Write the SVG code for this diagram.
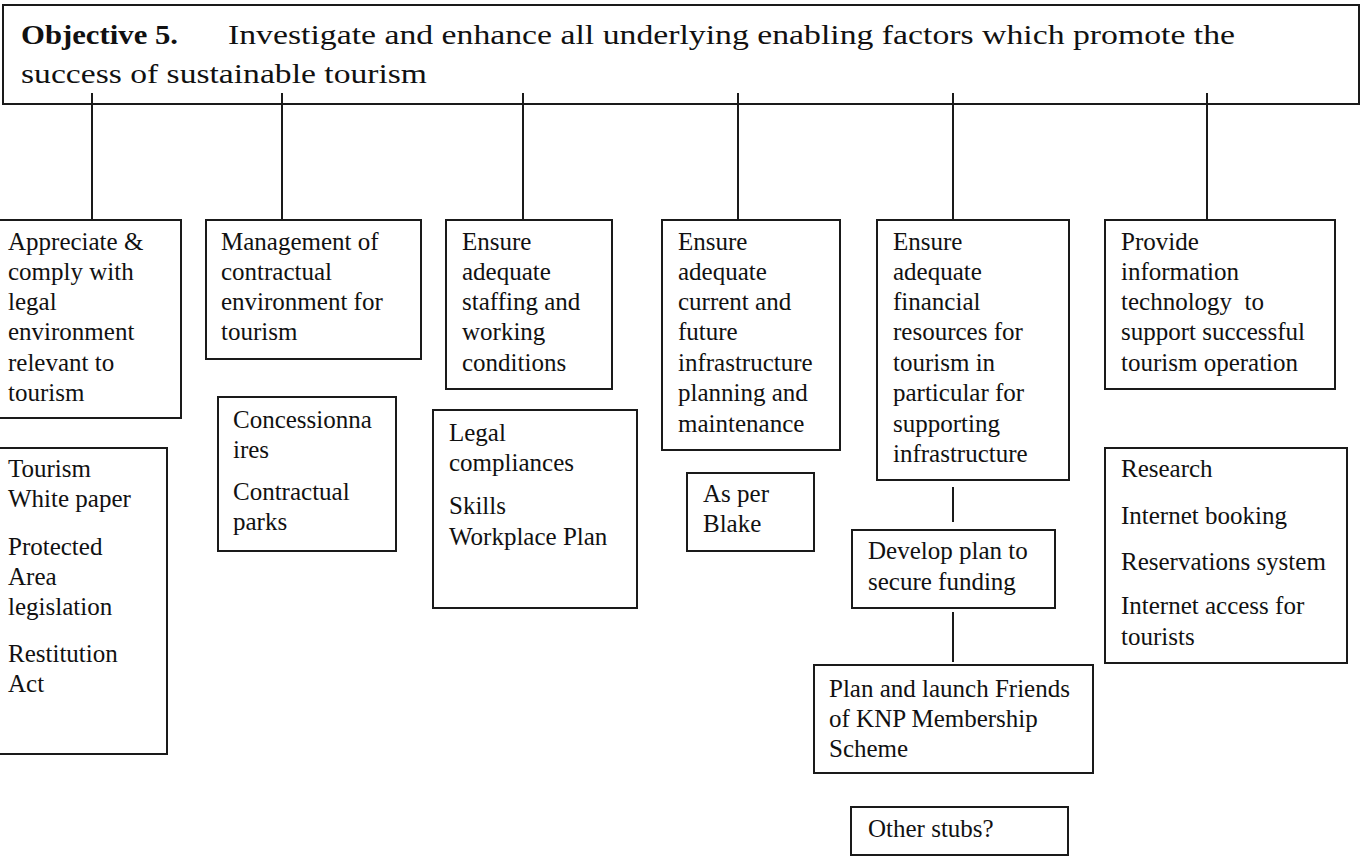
<svg xmlns="http://www.w3.org/2000/svg" width="1363" height="858" viewBox="0 0 1363 858">
  <style>
    .box { fill: #ffffff; stroke: #1a1a1a; stroke-width: 2; }
    .wire { stroke: #1a1a1a; stroke-width: 2; fill: none; }
    text { font-family: "Liberation Serif", "Times New Roman", serif; font-size: 25px; fill: #111111; }
    .title { font-size: 27px; }
    .bold { font-weight: bold; }
  </style>
  <rect width="1363" height="858" fill="#ffffff"/>

  <!-- objective header -->
  <g id="objective">
    <rect class="box" x="3" y="5" width="1356" height="99"/>
    <text class="title bold" x="21" y="44" textLength="157" lengthAdjust="spacingAndGlyphs">Objective 5.</text>
    <text class="title" x="228" y="44" textLength="1007" lengthAdjust="spacingAndGlyphs">Investigate and enhance all underlying enabling factors which promote the</text>
    <text class="title" x="21" y="83" textLength="406" lengthAdjust="spacingAndGlyphs">success of sustainable tourism</text>
  </g>

  <!-- connectors: drop lines start inside the header box -->
  <g id="connectors">
    <line class="wire" x1="92" y1="93" x2="92" y2="220"/>
    <line class="wire" x1="282" y1="93" x2="282" y2="220"/>
    <line class="wire" x1="523" y1="93" x2="523" y2="220"/>
    <line class="wire" x1="738" y1="93" x2="738" y2="220"/>
    <line class="wire" x1="953" y1="93" x2="953" y2="220"/>
    <line class="wire" x1="1207" y1="93" x2="1207" y2="220"/>
    <line class="wire" x1="953" y1="487" x2="953" y2="522"/>
    <line class="wire" x1="953" y1="612" x2="953" y2="662"/>
  </g>

  <g id="legal">
    <rect class="box" x="-2" y="220" width="183" height="198"/>
    <text x="8" y="250">Appreciate &amp;</text>
    <text x="8" y="280">comply with</text>
    <text x="8" y="310">legal</text>
    <text x="8" y="340">environment</text>
    <text x="8" y="371">relevant to</text>
    <text x="8" y="401">tourism</text>
  </g>

  <g id="contractual">
    <rect class="box" x="206" y="220" width="215" height="139"/>
    <text x="221" y="250">Management of</text>
    <text x="221" y="280">contractual</text>
    <text x="221" y="310">environment for</text>
    <text x="221" y="340">tourism</text>
  </g>

  <g id="staffing">
    <rect class="box" x="446" y="220" width="166" height="169"/>
    <text x="462" y="250">Ensure</text>
    <text x="462" y="280">adequate</text>
    <text x="462" y="310">staffing and</text>
    <text x="462" y="340">working</text>
    <text x="462" y="371">conditions</text>
  </g>

  <g id="infrastructure">
    <rect class="box" x="662" y="220" width="178" height="230"/>
    <text x="678" y="250">Ensure</text>
    <text x="678" y="280">adequate</text>
    <text x="678" y="310">current and</text>
    <text x="678" y="340">future</text>
    <text x="678" y="371">infrastructure</text>
    <text x="678" y="401">planning and</text>
    <text x="678" y="432">maintenance</text>
  </g>

  <g id="financial">
    <rect class="box" x="877" y="220" width="192" height="260"/>
    <text x="893" y="250">Ensure</text>
    <text x="893" y="280">adequate</text>
    <text x="893" y="310">financial</text>
    <text x="893" y="340">resources for</text>
    <text x="893" y="371">tourism in</text>
    <text x="893" y="401">particular for</text>
    <text x="893" y="432">supporting</text>
    <text x="893" y="462">infrastructure</text>
  </g>

  <g id="it">
    <rect class="box" x="1105" y="220" width="230" height="169"/>
    <text x="1121" y="250">Provide</text>
    <text x="1121" y="280">information</text>
    <text x="1121" y="310" xml:space="preserve">technology  to</text>
    <text x="1121" y="340">support successful</text>
    <text x="1121" y="371">tourism operation</text>
  </g>

  <g id="legislation">
    <rect class="box" x="-2" y="448" width="169" height="306"/>
    <text x="8" y="477">Tourism</text>
    <text x="8" y="507">White paper</text>
    <text x="8" y="555">Protected</text>
    <text x="8" y="585">Area</text>
    <text x="8" y="615">legislation</text>
    <text x="8" y="662">Restitution</text>
    <text x="8" y="692">Act</text>
  </g>

  <g id="concessions">
    <rect class="box" x="218" y="397" width="178" height="154"/>
    <text x="233" y="428">Concessionna</text>
    <text x="233" y="458">ires</text>
    <text x="233" y="500">Contractual</text>
    <text x="233" y="530">parks</text>
  </g>

  <g id="compliance">
    <rect class="box" x="433" y="410" width="204" height="198"/>
    <text x="449" y="441">Legal</text>
    <text x="449" y="471">compliances</text>
    <text x="449" y="514">Skills</text>
    <text x="449" y="545">Workplace Plan</text>
  </g>

  <g id="blake">
    <rect class="box" x="687" y="473" width="127" height="78"/>
    <text x="703" y="502">As per</text>
    <text x="703" y="532">Blake</text>
  </g>

  <g id="funding">
    <rect class="box" x="852" y="530" width="203" height="78"/>
    <text x="868" y="559">Develop plan to</text>
    <text x="868" y="590">secure funding</text>
  </g>

  <g id="friends">
    <rect class="box" x="814" y="665" width="279" height="108"/>
    <text x="829" y="697">Plan and launch Friends</text>
    <text x="829" y="727">of KNP Membership</text>
    <text x="829" y="757">Scheme</text>
  </g>

  <g id="stubs">
    <rect class="box" x="851" y="807" width="217" height="48"/>
    <text x="868" y="837">Other stubs?</text>
  </g>

  <g id="systems">
    <rect class="box" x="1105" y="448" width="242" height="215"/>
    <text x="1121" y="477">Research</text>
    <text x="1121" y="524">Internet booking</text>
    <text x="1121" y="570">Reservations system</text>
    <text x="1121" y="614">Internet access for</text>
    <text x="1121" y="645">tourists</text>
  </g>
</svg>
